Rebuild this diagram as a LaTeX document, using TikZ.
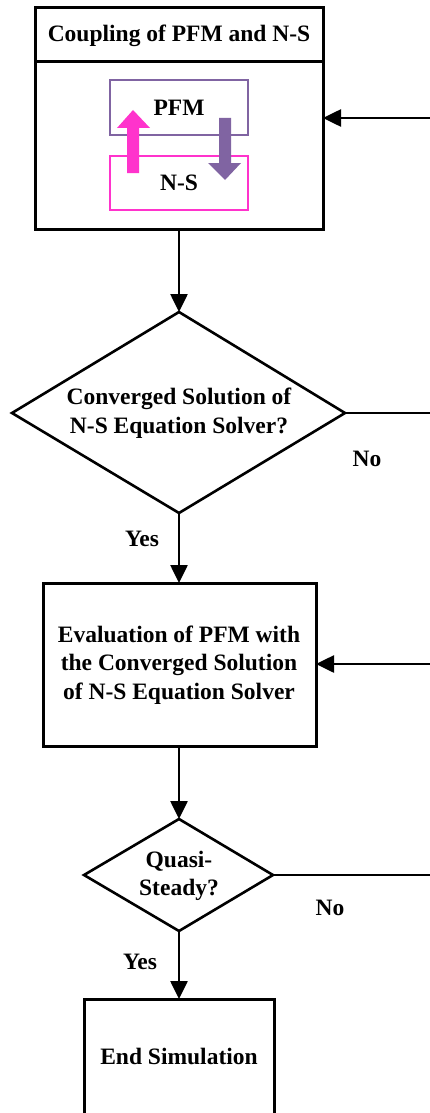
\documentclass[tikz,border=0pt]{standalone}
\usepackage{fontspec}
\setmainfont{Liberation Serif}
\usetikzlibrary{arrows.meta}
\definecolor{pfmpurple}{RGB}{128,100,162}
\definecolor{nspink}{RGB}{255,51,204}
\begin{document}
\begin{tikzpicture}[x=1pt,y=-1pt,
  txt/.style={font=\fontsize{23.5}{28.7}\selectfont\bfseries, align=center, inner sep=0pt},
  line/.style={line width=2.6pt},
  arr/.style={line width=2.6pt, -{Triangle[length=18pt,width=17pt]}},
  box/.style={draw, line width=3pt}
]
\useasboundingbox (0,0) rectangle (430,1113);
\fill[white] (0,0) rectangle (430,1113);

% top coupling box
\draw[box] (35,8) rectangle (323,229);
\draw[line width=3pt] (35,62) -- (323,62);
\node[txt] (hdr) at (179,36) {Coupling of PFM and N-S};
\coordinate (topN) at (179,8);
\coordinate (topS) at (179,229);
\coordinate (topE) at (323,118);

% inner boxes
\draw[pfmpurple, line width=2pt] (110,80) rectangle (248,135);
\draw[nspink, line width=2pt] (110,156) rectangle (248,210);
\node[txt] (pfm) at (179,108) {PFM};
\node[txt] (ns) at (179,183) {N-S};

% pink up arrow
\fill[nspink] (127,173) -- (127,128) -- (117,128) -- (133,110) -- (150,128) -- (139,128) -- (139,173) -- cycle;
% purple down arrow
\fill[pfmpurple] (219,118) -- (219,163) -- (208,163) -- (225,180) -- (241,163) -- (231,163) -- (231,118) -- cycle;

% diamond 1
\coordinate (d1N) at (179,312);
\coordinate (d1W) at (12,413);
\coordinate (d1E) at (345,413);
\coordinate (d1S) at (179,513);
\draw[line width=2.6pt, line join=miter] (d1N) -- (d1E) -- (d1S) -- (d1W) -- cycle;
\node[txt] (d1) at (179,413) {Converged Solution of\\N-S Equation Solver?};

% evaluation box
\draw[box] (43,583) rectangle (316,746);
\node[txt] (ev) at (179,665) {Evaluation of PFM with\\the Converged Solution\\of N-S Equation Solver};
\coordinate (evN) at (179,583);
\coordinate (evS) at (179,746);
\coordinate (evE) at (316,664);

% diamond 2
\coordinate (d2N) at (179,819);
\coordinate (d2W) at (84,875);
\coordinate (d2E) at (273,875);
\coordinate (d2S) at (179,931);
\draw[line width=2.6pt, line join=miter] (d2N) -- (d2E) -- (d2S) -- (d2W) -- cycle;
\node[txt] (d2) at (179,876) {Quasi-\\Steady?};

% end box
\draw[box] (84,999) rectangle (274,1130);
\node[txt] (end) at (179,1056) {End Simulation};
\coordinate (endN) at (179,999);

% right edge coordinates
\coordinate (r1) at (430,118);
\coordinate (r2) at (430,413);
\coordinate (r3) at (430,664);
\coordinate (r4) at (430,875);

% connectors
\draw[arr] (topS) -- (d1N);
\draw[arr] (d1S) -- (evN);
\draw[arr] (evS) -- (d2N);
\draw[arr] (d2S) -- (endN);
\draw[arr] (r1) -- (topE);
\draw[arr] (r3) -- (evE);
\draw[line] (d1E) -- (r2);
\draw[line] (d2E) -- (r4);

% labels
\node[txt] (no1) at (367,459) {No};
\node[txt] (yes1) at (142,539) {Yes};
\node[txt] (no2) at (330,908) {No};
\node[txt] (yes2) at (140,962) {Yes};
\end{tikzpicture}
\end{document}
